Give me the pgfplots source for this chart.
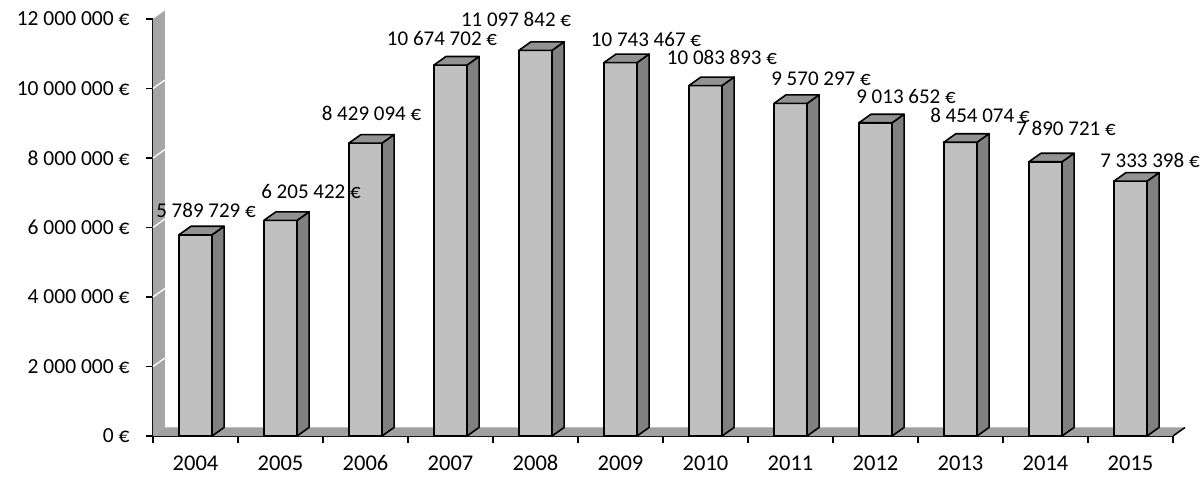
\documentclass[border=0pt]{standalone}
\usepackage{pgfplots}
\usepackage{pgfplotstable}
\pgfplotsset{compat=1.18}
\usepackage{fontspec}
\setmainfont{Carlito}[Numbers={Lining}]
\definecolor{frontc}{HTML}{C0C0C0}
\definecolor{sidec}{HTML}{808080}
\definecolor{topc}{HTML}{929292}
\definecolor{wallc}{HTML}{A6A6A6}
\definecolor{floorc}{HTML}{A0A0A0}

\pgfplotstableread{
i v lx ly lab
0 5789729 0.124 6.504e6 5~789~729~€
1 6205422 1.359 7.022e6 6~205~422~€
2 8429094 2.071 9.295e6 8~429~094~€
3 10674702 2.900 11.453e6 10~674~702~€
4 11097842 3.771 12.000e6 11~097~842~€
5 10743467 5.300 11.396e6 10~743~467~€
6 10083893 6.194 10.906e6 10~083~893~€
7 9570297 7.359 10.273e6 9~570~297~€
8 9013652 8.359 9.784e6 9~013~652~€
9 8454074 9.229 9.237e6 8~454~074~€
10 7890721 10.241 8.863e6 7~890~721~€
11 7333398 11.229 7.942e6 7~333~398~€
}\data

% face templates: x = i + a, y = f*value + b*depth
\pgfplotstableread{
a f b
-0.195 0 0
0.195 0 0
0.195 1 0
-0.195 1 0
}\frontface
\pgfplotstableread{
a f b
0.195 0 0
0.336 0 1
0.336 1 1
0.195 1 0
}\sideface
\pgfplotstableread{
a f b
-0.195 1 0
-0.054 1 1
0.336 1 1
0.195 1 0
}\topface

\begin{document}
\begin{tikzpicture}
\begin{axis}[
  at={(0,0)}, anchor=south west,
  scale only axis, width=1020pt, height=417pt,
  xmin=-0.5, xmax=11.5, ymin=0, ymax=12000000,
  clip=false,
  axis lines=left,
  axis line style={-, black, line width=1.5pt},
  tick align=outside,
  major tick length=7pt,
  minor tick length=7pt,
  xtick={0,...,11},
  xticklabels={2004,2005,2006,2007,2008,2009,2010,2011,2012,2013,2014,2015},
  every major x tick/.append style={draw=none},
  minor xtick={-0.5,0.5,...,11.5},
  every minor x tick/.append style={black, line width=1.5pt},
  ytick={0,2000000,4000000,6000000,8000000,10000000,12000000},
  yticklabels={0~€,2~000~000~€,4~000~000~€,6~000~000~€,8~000~000~€,10~000~000~€,12~000~000~€},
  every major y tick/.append style={black, line width=1.5pt},
  scaled y ticks=false,
  xticklabel style={font=\fontsize{22.5}{26}\selectfont, yshift=-9pt},
  yticklabel style={font=\fontsize{21.5}{26}\selectfont, xshift=-13pt},
]
% wall
\addplot[fill=wallc, draw=none] coordinates {(-0.5,0) (-0.5,12000000) (-0.359,12245000) (-0.359,245000)} --cycle;
\pgfplotsinvokeforeach{2,4,6,8,10}{
  \addplot[white, line width=1.3pt] coordinates {(-0.5,#1e6) (-0.359,#1.245e6)};
}
% floor
\addplot[fill=floorc, draw=none] coordinates {(-0.5,0) (11.5,0) (11.641,245000) (-0.359,245000)} --cycle;
\addplot[black, line width=1.5pt] coordinates {(11.5,0) (11.641,245000)};
% bars
\pgfplotsinvokeforeach{0,...,11}{
  \pgfplotstablegetelem{#1}{v}\of\data
  \edef\val{\pgfplotsretval}
  \addplot[fill=frontc, draw=black, line width=1.6pt, line join=round]
    table[x expr=#1+\thisrow{a}, y expr=\thisrow{f}*\val+\thisrow{b}*245000] {\frontface} --cycle;
  \addplot[fill=sidec, draw=black, line width=1.6pt, line join=round]
    table[x expr=#1+\thisrow{a}, y expr=\thisrow{f}*\val+\thisrow{b}*245000] {\sideface} --cycle;
  \addplot[fill=topc, draw=black, line width=1.6pt, line join=round]
    table[x expr=#1+\thisrow{a}, y expr=\thisrow{f}*\val+\thisrow{b}*245000] {\topface} --cycle;
}
% data labels
\addplot[only marks, mark=*, mark size=0pt, point meta=explicit symbolic,
  nodes near coords,
  every node near coord/.append style={anchor=center, font=\fontsize{21}{25}\selectfont, text=black}]
  table[x=lx, y=ly, meta=lab] {\data};
\end{axis}
\pgfresetboundingbox
\path[use as bounding box] (-153pt,-43pt) rectangle (1048pt,436pt);
\end{tikzpicture}
\end{document}
